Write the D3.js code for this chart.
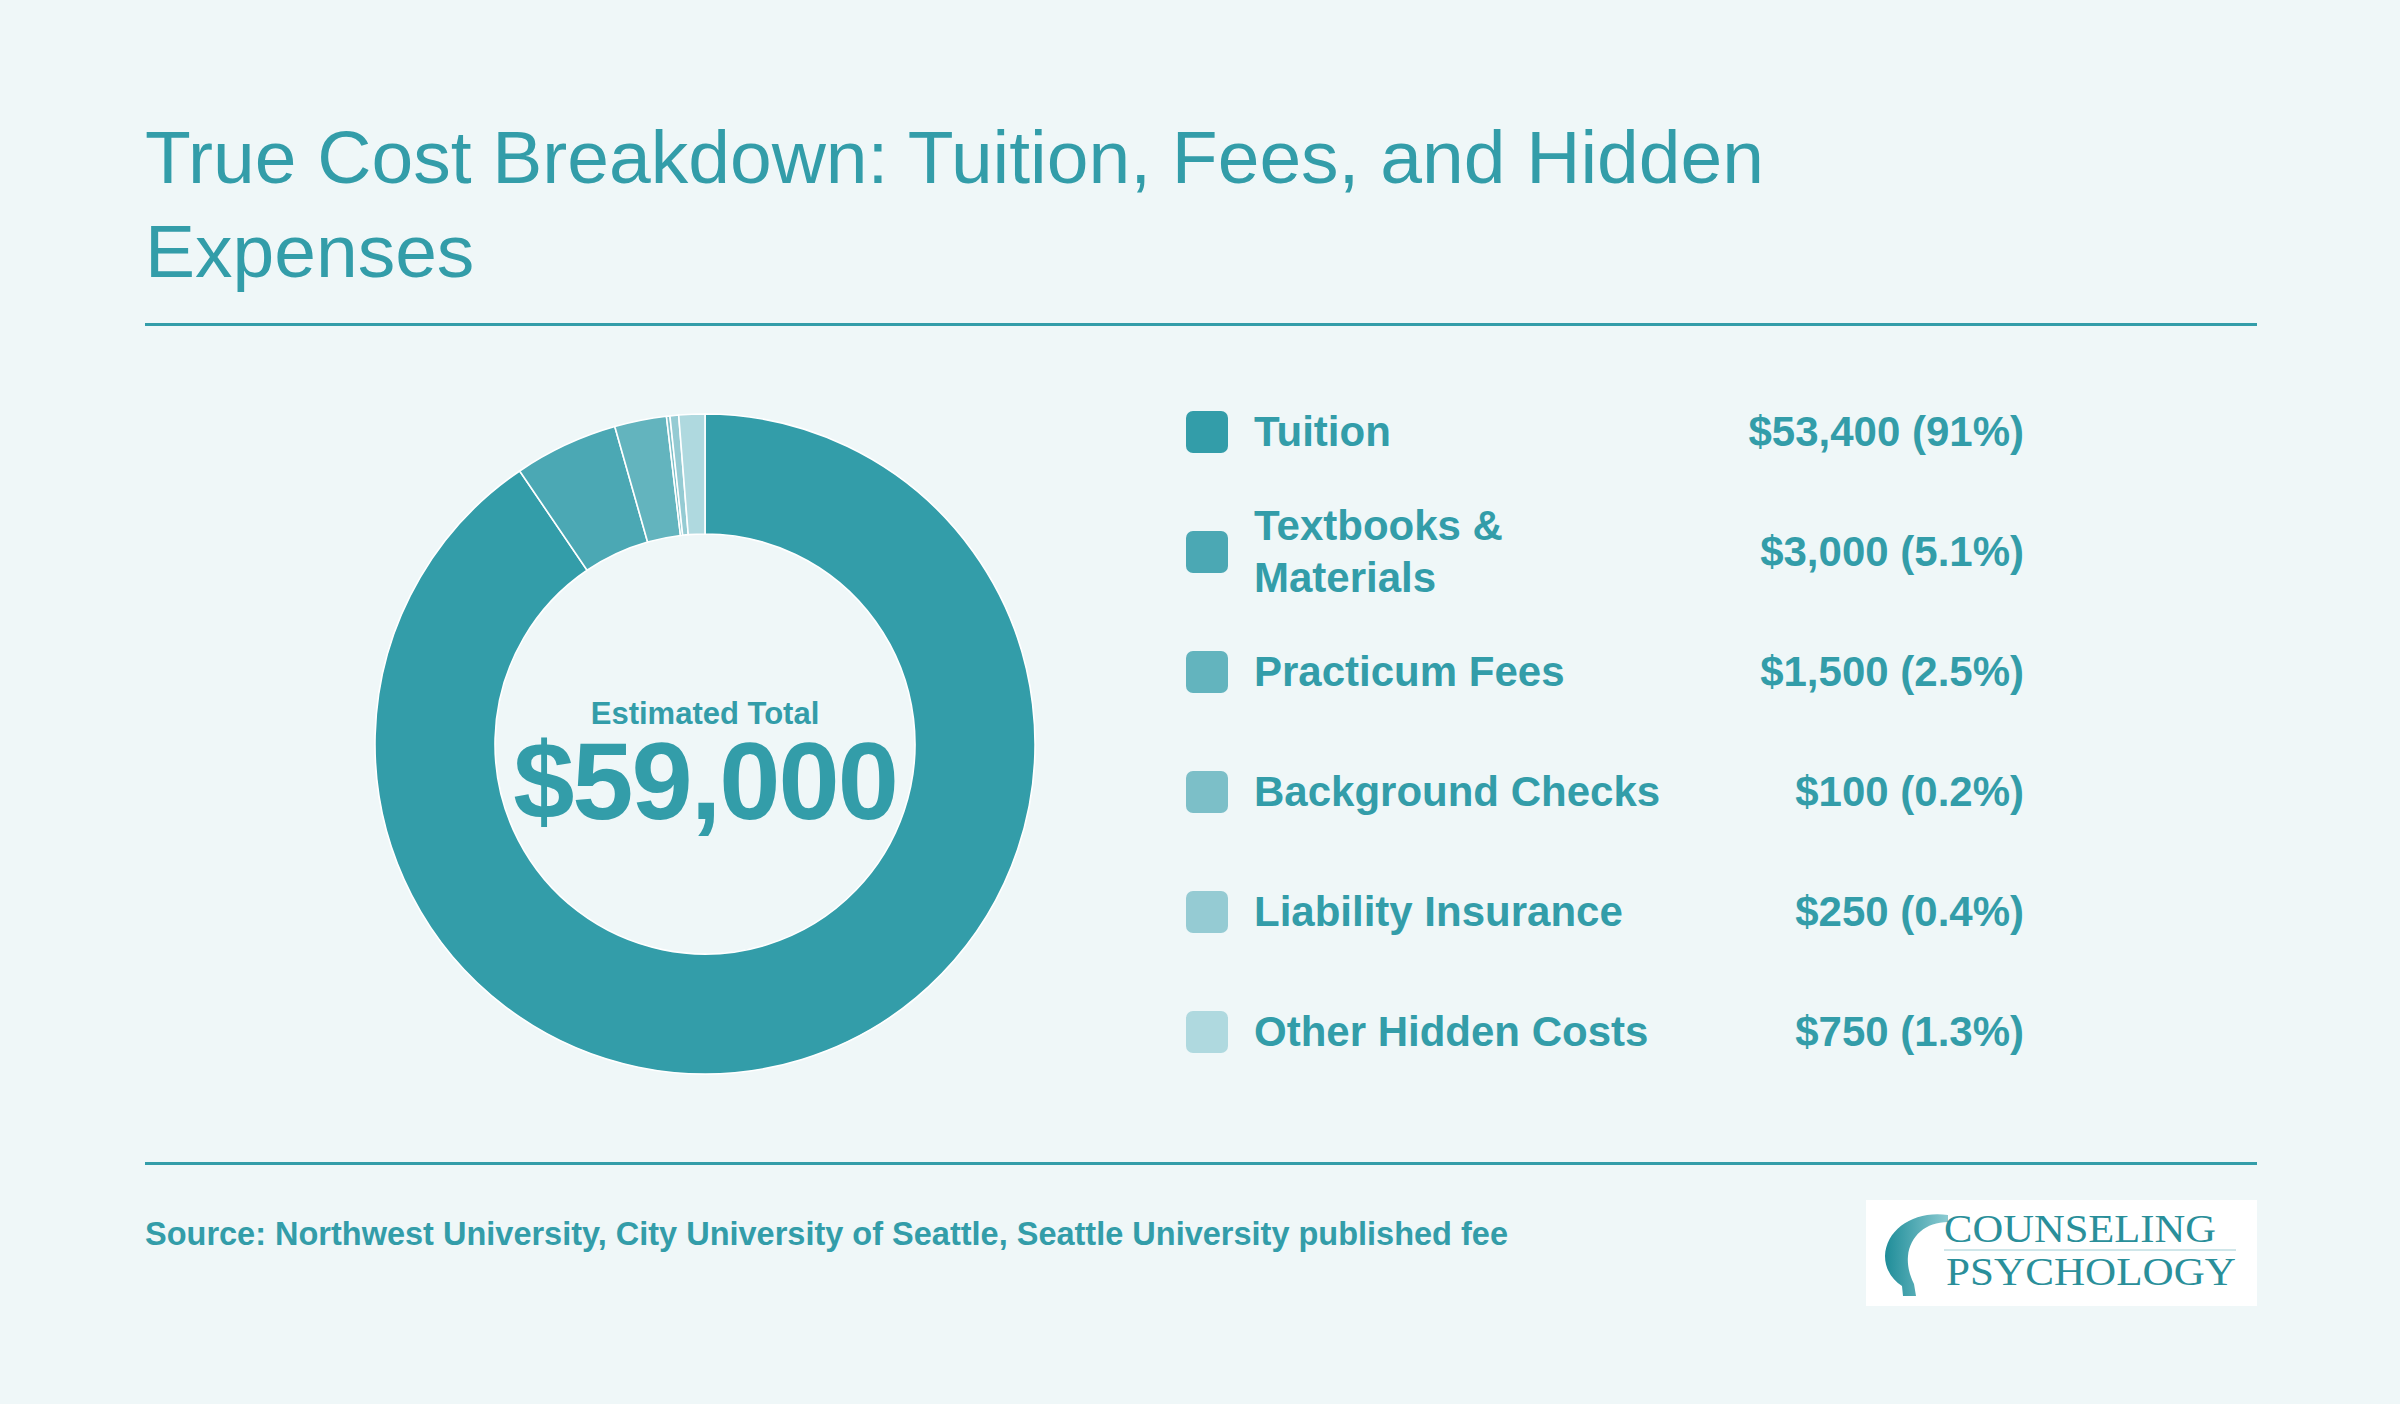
<!DOCTYPE html>
<html>
<head>
<meta charset="utf-8">
<script src="https://cdn.jsdelivr.net/npm/d3@7"></script>
<style>
  body { margin: 0; background: #eff7f8; }
  svg { display: block; font-family: "Liberation Sans", Arial, Helvetica, sans-serif; }
</style>
</head>
<body>
<svg width="2400" height="1404"></svg>
<script>
// data
var categories = ["Tuition", "Textbooks & Materials", "Practicum Fees", "Background Checks", "Liability Insurance", "Other Hidden Costs"];
var amounts = [53400, 3000, 1500, 100, 250, 750];
var shares = ["91%", "5.1%", "2.5%", "0.2%", "0.4%", "1.3%"];
var colors = ["#339da9", "#4ba8b4", "#63b4be", "#7cbfc8", "#95cbd3", "#afd9df"];
var totalLabel = "$59,000";

var teal = "#339da9";
var svg = d3.select("svg");

svg.append("rect").attr("width", 2400).attr("height", 1404).attr("fill", "#eff7f8");

// title
var title = svg.append("text")
    .attr("fill", teal)
    .attr("font-size", 75);
title.append("tspan").attr("x", 145).attr("y", 183).text("True Cost Breakdown: Tuition, Fees, and Hidden");
title.append("tspan").attr("x", 145).attr("y", 277).text("Expenses");

svg.append("rect").attr("x", 145).attr("y", 323).attr("width", 2112).attr("height", 3).attr("fill", teal);
svg.append("rect").attr("x", 145).attr("y", 1162).attr("width", 2112).attr("height", 3).attr("fill", teal);

// donut
var data = categories.map(function(c, i) {
    return { name: c, value: amounts[i], share: shares[i], color: colors[i] };
});

var pie = d3.pie().sort(null).value(function(d) { return d.value; });
var arc = d3.arc().innerRadius(210).outerRadius(330);

var g = svg.append("g").attr("transform", "translate(705,744)");

g.selectAll(".slice")
    .data(pie(data))
    .enter().append("path")
    .attr("class", "slice")
    .attr("d", arc)
    .attr("fill", function(d) { return d.data.color; })
    .attr("stroke", "#ffffff")
    .attr("stroke-width", 1.6);

g.append("text")
    .attr("text-anchor", "middle")
    .attr("y", -20)
    .attr("font-size", 31)
    .attr("font-weight", "bold")
    .attr("fill", teal)
    .text("Estimated Total");

g.append("text")
    .attr("text-anchor", "middle")
    .attr("y", 75)
    .attr("font-size", 110)
    .attr("font-weight", "bold")
    .attr("letter-spacing", -2)
    .attr("fill", teal)
    .text(totalLabel);

// legend
var rowY = d3.scalePoint().domain(categories).range([432, 1032]);
var fmt = d3.format("$,");

var rows = svg.selectAll(".row")
    .data(data)
    .enter().append("g")
    .attr("class", "row")
    .attr("transform", function(d) { return "translate(0," + rowY(d.name) + ")"; });

rows.append("rect")
    .attr("x", 1186)
    .attr("y", -21)
    .attr("width", 42)
    .attr("height", 42)
    .attr("rx", 7)
    .attr("fill", function(d) { return d.color; });

rows.append("text")
    .attr("class", "lbl")
    .attr("x", 1254)
    .attr("font-size", 42)
    .attr("font-weight", "bold")
    .attr("fill", teal)
    .each(function(d) {
        var t = d3.select(this);
        var words = d.name.split(" ");
        var lines = [];
        var line = [];
        var probe = t.append("tspan");
        words.forEach(function(w) {
            line.push(w);
            probe.text(line.join(" "));
            if (probe.node().getComputedTextLength() > 440 && line.length > 1) {
                line.pop();
                lines.push(line.join(" "));
                line = [w];
            }
        });
        lines.push(line.join(" "));
        probe.remove();
        var lh = 52.5;
        lines.forEach(function(l, i) {
            t.append("tspan")
                .attr("x", 1254)
                .attr("y", 14 + (i - (lines.length - 1) / 2) * lh)
                .text(l);
        });
    });

rows.append("text")
    .attr("x", 2024)
    .attr("y", 14)
    .attr("text-anchor", "end")
    .attr("font-size", 42)
    .attr("font-weight", "bold")
    .attr("fill", teal)
    .text(function(d) { return fmt(d.value) + " (" + d.share + ")"; });

// source
svg.append("text")
    .attr("x", 145)
    .attr("y", 1245)
    .attr("font-size", 32.5)
    .attr("font-weight", "bold")
    .attr("fill", teal)
    .text("Source: Northwest University, City University of Seattle, Seattle University published fee");

// logo
var logo = svg.append("g");
logo.append("rect").attr("x", 1866).attr("y", 1200).attr("width", 391).attr("height", 106).attr("fill", "#ffffff");

var grad = svg.append("defs").append("linearGradient")
    .attr("id", "headGrad").attr("x1", 0).attr("x2", 1).attr("y1", 0).attr("y2", 0);
grad.append("stop").attr("offset", "0%").attr("stop-color", "#1f8d99");
grad.append("stop").attr("offset", "100%").attr("stop-color", "#8ccbd2");

// C-shaped head profile
logo.append("path")
    .attr("d", "M1948,1215 C1916,1210 1886,1228 1885,1256 C1885,1270 1893,1280 1902,1286 L1903,1296 L1916,1296 L1914,1284 C1910,1276 1907,1266 1908,1256 C1910,1236 1926,1222 1948,1222 Z")
    .attr("fill", "url(#headGrad)");

logo.append("text")
    .attr("x", 1944).attr("y", 1242)
    .attr("font-family", "'Liberation Serif', 'Times New Roman', serif")
    .attr("font-size", 40)
    .attr("textLength", 272)
    .attr("lengthAdjust", "spacingAndGlyphs")
    .attr("fill", "#2a8f9a")
    .text("COUNSELING");

logo.append("rect").attr("x", 1944).attr("y", 1249).attr("width", 292).attr("height", 2).attr("fill", "#cfe6e9");

logo.append("text")
    .attr("x", 1946).attr("y", 1285)
    .attr("font-family", "'Liberation Serif', 'Times New Roman', serif")
    .attr("font-size", 40)
    .attr("textLength", 290)
    .attr("lengthAdjust", "spacingAndGlyphs")
    .attr("fill", "#2a8f9a")
    .text("PSYCHOLOGY");
</script>
</body>
</html>
